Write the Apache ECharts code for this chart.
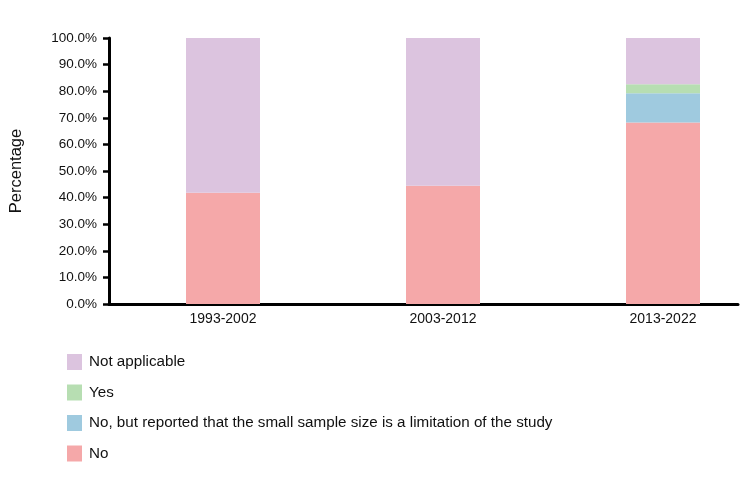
<!DOCTYPE html>
<html>
<head>
<meta charset="utf-8">
<script src="https://cdn.jsdelivr.net/npm/echarts@6/dist/echarts.min.js"></script>
<style>html,body{margin:0;padding:0;background:#fff;overflow:hidden;width:752px;height:488px}#c{width:800px;height:488px}</style>
</head>
<body>
<div id="c"></div>
<script>
var categories = ['1993-2002', '2003-2012', '2013-2022'];
var seriesNames = ['No', 'No, but reported that the small sample size is a limitation of the study', 'Yes', 'Not applicable'];
var noValues = [41.8, 44.5, 68.2];
var noButValues = [0, 0, 11.0];
var yesValues = [0, 0, 3.4];
var naValues = [58.2, 55.5, 17.4];
var yTicks = [0, 10, 20, 30, 40, 50, 60, 70, 80, 90, 100];
var legendOrder = ['Not applicable', 'Yes', 'No, but reported that the small sample size is a limitation of the study', 'No'];
var colors = ['#F5A8A9', '#9FCADF', '#B7DEB2', '#DCC4DF'];

var chart = echarts.init(document.getElementById('c'), null, {renderer: 'canvas'});
var values = [noValues, noButValues, yesValues, naValues];
var series = seriesNames.map(function (n, i) {
  return {
    name: n, type: 'bar', stack: 'total', xAxisIndex: 1, yAxisIndex: 1,
    data: values[i], barWidth: 74,
    itemStyle: {color: colors[i]}, emphasis: {disabled: true}
  };
});
chart.setOption({
  animation: false,
  grid: [
    {left: 109, width: 629, top: 38, bottom: 184},
    {left: 113, width: 660, top: 38, bottom: 184}
  ],
  legend: {
    orient: 'vertical', left: 62, top: 349,
    itemWidth: 15, itemHeight: 16, itemGap: 14.5,
    icon: 'rect',
    data: legendOrder,
    textStyle: {fontFamily: 'Liberation Sans', fontSize: 15.2, color: '#111', padding: [3, 0, 0, 2]}
  },
  xAxis: [
    {type: 'category', gridIndex: 0, data: categories,
     axisLine: {lineStyle: {color: '#000', width: 3}}, axisTick: {show: false},
     axisLabel: {show: false}, splitLine: {show: false}},
    {type: 'category', gridIndex: 1, data: categories,
     axisLine: {show: false}, axisTick: {show: false},
     axisLabel: {fontFamily: 'Liberation Sans', fontSize: 14, color: '#111', margin: 8},
     splitLine: {show: false}}
  ],
  yAxis: [
    {type: 'value', gridIndex: 0, min: yTicks[0], max: yTicks[yTicks.length - 1], interval: 10,
     name: 'Percentage', nameLocation: 'middle', nameGap: 84, nameRotate: 90,
     nameTextStyle: {fontFamily: 'Liberation Sans', fontSize: 16.5, color: '#111'},
     axisLine: {show: true, lineStyle: {color: '#000', width: 3}},
     axisTick: {show: true, length: 6, lineStyle: {color: '#000', width: 2.5}},
     axisLabel: {fontFamily: 'Liberation Sans', fontSize: 13.5, color: '#111', margin: 12,
       formatter: function (v) { return v.toFixed(1) + '%'; }},
     splitLine: {show: false}},
    {type: 'value', gridIndex: 1, min: 0, max: 100, interval: 10, show: false}
  ],
  series: series
});
</script>
</body>
</html>
